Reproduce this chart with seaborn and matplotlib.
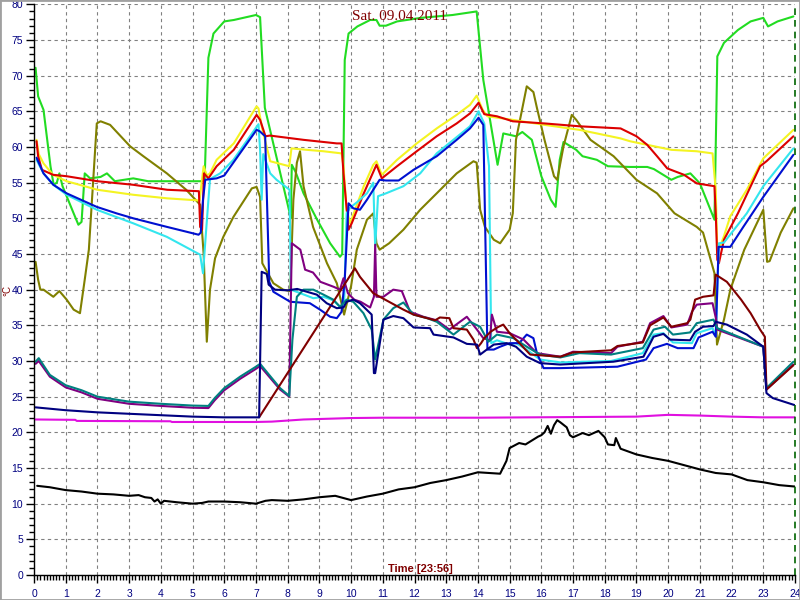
import matplotlib
matplotlib.use("Agg")
import matplotlib.pyplot as plt
import matplotlib.patches as mpatches
from matplotlib.ticker import MultipleLocator
import pandas as pd
import seaborn as sns

# Values: hour of day -> temperature (°C), one pair of lists per sensor
green_h = [0.05, 0.13, 0.3, 0.52, 0.62, 0.72, 0.8, 0.9, 1.25, 1.4, 1.5, 1.6, 1.77, 2.1, 2.3, 2.55, 3.13, 3.6, 4.5,
           5.3, 5.38, 5.5, 5.66, 6.0, 6.3, 7.0, 7.13, 7.28, 8.05, 8.1, 8.13, 8.25, 8.5, 8.93, 9.34, 9.65, 9.72, 9.8,
           9.92, 10.2, 10.6, 10.8, 10.9, 11.1, 11.45, 12.2, 13.2, 13.96, 14.17, 14.62, 14.8, 15.2, 15.4, 15.7, 16.0,
           16.3, 16.45, 16.58, 16.7, 17.1, 17.3, 17.75, 18.1, 18.8, 19.34, 19.55, 20.1, 20.3, 20.7, 21.0, 21.46,
           21.55, 21.76, 22.2, 22.6, 23.0, 23.15, 23.45, 23.95]
green_v = [71.1, 67.1, 65.2, 57.3, 54.7, 55.0, 56.3, 54.5, 50.7, 49.1, 49.5, 56.3, 55.6, 55.8, 56.3, 55.2, 55.6, 55.2,
           55.2, 55.2, 55.2, 72.5, 75.9, 77.6, 77.8, 78.5, 78.2, 65.5, 51.0, 50.0, 57.5, 56.5, 53.5, 49.8, 46.5, 44.6,
           45.0, 72.2, 75.9, 76.9, 77.8, 77.8, 77.0, 77.0, 77.6, 78.1, 78.5, 79.0, 69.4, 57.5, 61.9, 61.5, 62.1,
           61.0, 55.9, 52.6, 51.6, 58.2, 60.7, 59.6, 58.7, 58.2, 57.3, 57.2, 57.2, 56.9, 55.4, 55.8, 56.3, 54.9,
           49.8, 72.7, 74.6, 76.4, 77.6, 78.1, 76.9, 77.6, 78.3]

yellow_h = [0.08, 0.15, 0.3, 0.6, 1.03, 2.0, 3.13, 4.2, 5.22, 5.35, 5.45, 5.55, 5.76, 6.3, 7.02, 7.08, 7.2, 7.45,
            8.05, 8.12, 8.6, 9.13, 9.7, 9.76, 9.86, 9.97, 10.2, 10.4, 10.7, 10.8, 10.97, 11.45, 12.07, 12.7, 13.33,
            13.75, 13.96, 14.15, 14.3, 15.1, 16.1, 17.2, 17.75, 18.5, 18.8, 19.34, 20.1, 20.9, 21.4, 21.5, 21.55,
            21.76, 21.96, 22.48, 23.0, 23.95]
yellow_v = [61.0, 59.0, 57.7, 56.1, 55.2, 54.0, 53.3, 52.8, 52.5, 57.3, 56.0, 56.3, 58.2, 60.5, 65.7, 65.4, 62.5, 58.0,
            57.3, 59.8, 59.6, 59.4, 59.1, 57.3, 51.2, 49.3, 52.1, 54.5, 57.5, 58.0, 56.1, 58.2, 60.5, 62.6, 64.5,
            65.9, 67.2, 65.2, 64.3, 63.8, 63.1, 62.4, 61.9, 61.2, 60.8, 60.3, 59.6, 59.4, 59.1, 54.0, 45.1,
            47.5, 50.3, 54.0, 58.4, 62.4]

red_h = [0.08, 0.13, 0.25, 0.6, 1.03, 2.0, 3.13, 4.2, 5.2, 5.24, 5.3, 5.36, 5.5, 5.76, 6.3, 7.02, 7.13, 7.3, 7.44,
         8.5, 9.55, 9.7, 9.76, 9.92, 10.02, 10.4, 10.8, 10.97, 11.45, 12.07, 12.7, 13.33, 13.75, 14.02, 14.2, 14.6,
         15.1, 16.1, 17.2, 18.5, 19.0, 19.34, 19.65, 19.97, 20.5, 20.9, 21.46, 21.5, 21.55, 21.6, 21.76, 22.2,
         22.9, 23.1, 23.95]
red_v = [60.8, 58.7, 56.8, 56.1, 55.9, 55.2, 54.7, 54.0, 53.8, 48.8, 48.4, 56.3, 55.6, 57.3, 59.6, 64.5, 63.8, 61.5,
         61.6, 61.0, 60.5, 60.5, 56.3, 48.4, 49.3, 53.5, 57.5, 55.6, 57.3, 59.4, 61.5, 63.3, 64.7, 66.2, 64.6, 64.3,
         63.6, 63.3, 62.9, 62.6, 61.5, 60.3, 58.7, 57.0, 56.1, 54.9, 54.5, 50.7, 44.2, 43.7, 47.0, 50.7,
         57.3, 58.0, 61.5]

cyan_h = [0.08, 0.3, 0.61, 1.03, 1.98, 3.13, 4.19, 5.24, 5.33, 5.43, 5.55, 5.87, 6.29, 7.08, 7.13, 7.18, 7.23, 7.45,
          7.65, 8.06, 8.1, 8.4, 8.81, 9.13, 9.44, 9.65, 9.78, 9.86, 9.97, 10.2, 10.5, 10.7, 10.76, 10.85, 11.1,
          11.65, 12.18, 12.7, 13.75, 14.02, 14.2, 14.35, 14.42, 14.6, 15.0, 15.2, 15.54, 15.96, 16.6, 18.2, 19.2,
          19.54, 19.85, 20.15, 20.75, 20.9, 21.4, 21.5, 21.6, 21.76, 22.48, 23.0, 23.95]
cyan_v = [58.2, 56.3, 54.7, 53.3, 51.2, 49.3, 47.4, 44.9, 42.3, 48.4, 55.5, 56.3, 58.2, 63.2, 59.6, 52.6, 59.0, 56.3,
          55.4, 54.0, 40.0, 39.5, 38.8, 39.0, 38.5, 37.6, 38.0, 50.7, 51.5, 52.3, 53.5, 55.0, 46.0, 53.1, 53.5,
          54.5, 56.3, 59.1, 62.9, 65.0, 63.3, 57.3, 32.5, 32.9, 32.3, 32.5, 31.6, 30.2, 29.8, 30.0, 31.1,
          33.7, 33.9, 32.6, 32.5, 33.9, 34.6, 33.5, 46.5, 46.6, 50.7, 54.5, 59.8]

blue_h = [0.08, 0.3, 0.61, 1.03, 1.98, 2.6, 3.13, 4.19, 5.19, 5.26, 5.33, 5.4, 5.76, 6.0, 7.02, 7.12, 7.29, 7.42,
          7.55, 8.08, 8.7, 9.02, 9.34, 9.55, 9.7, 9.8, 9.92, 10.07, 10.28, 10.5, 10.9, 11.1, 11.5, 11.97, 12.7,
          13.33, 13.75, 14.02, 14.17, 14.3, 14.5, 14.7, 15.0, 15.3, 15.54, 15.75, 15.86, 16.07, 16.6, 18.4, 19.3,
          19.54, 19.96, 20.3, 20.8, 20.96, 21.4, 21.5, 21.59, 21.96, 22.37, 23.0, 23.95]
blue_v = [58.5, 56.3, 54.7, 53.5, 51.6, 50.7, 50.0, 48.8, 47.7, 48.0, 52.6, 55.4, 55.6, 56.0, 62.4, 62.2, 61.5, 41.1,
          39.7, 38.3, 38.1, 37.2, 36.2, 36.0, 36.9, 41.4, 52.1, 51.4, 51.2, 52.6, 55.4, 55.3, 55.3, 56.8, 58.7,
          61.0, 62.6, 64.1, 63.1, 31.6, 31.6, 32.0, 32.5, 32.5, 33.7, 33.2, 31.1, 29.0, 29.0, 29.2, 30.2,
          31.8, 32.4, 31.8, 31.8, 33.3, 34.1, 33.4, 46.0, 46.0, 48.8, 53.0, 58.9]

olive_h = [0.05, 0.13, 0.2, 0.3, 0.61, 0.8, 1.03, 1.25, 1.45, 1.6, 1.73, 1.98, 2.1, 2.4, 3.03, 3.45, 4.19, 4.8, 5.24,
           5.35, 5.45, 5.55, 5.71, 5.97, 6.29, 6.87, 7.02, 7.13, 7.2, 7.55, 7.86, 8.08, 8.18, 8.29, 8.39, 8.5, 8.8,
           9.24, 9.55, 9.78, 10.0, 10.18, 10.5, 10.7, 10.8, 10.9, 11.2, 11.65, 12.18, 12.7, 13.33, 13.86, 13.96,
           14.07, 14.22, 14.5, 14.7, 15.0, 15.1, 15.2, 15.54, 15.75, 15.86, 16.1, 16.4, 16.5, 16.7, 16.96, 17.1,
           17.55, 18.28, 19.0, 19.65, 20.2, 20.9, 21.1, 21.46, 21.54, 21.76, 21.96, 22.4, 23.0, 23.12, 23.2,
           23.55, 23.95]
olive_v = [43.9, 41.4, 40.0, 40.0, 39.0, 39.8, 38.6, 37.2, 36.7, 41.4, 45.6, 63.3, 63.6, 63.1, 60.1, 58.7, 56.3, 54.0,
           51.9, 45.0, 32.7, 40.0, 44.4, 47.4, 50.2, 54.2, 54.4, 53.0, 43.7, 40.9, 40.0, 39.8, 52.6, 57.8, 59.4,
           54.5, 48.8, 43.7, 40.9, 36.5, 40.5, 45.6, 49.8, 50.7, 46.5, 45.6, 46.5, 48.4, 51.2, 53.5, 56.3, 58.0,
           57.8, 51.2, 48.8, 47.0, 46.5, 48.4, 50.7, 61.0, 68.5, 67.7, 65.5, 61.0, 55.9, 55.4, 60.1, 64.5, 63.8,
           61.0, 58.7, 55.4, 53.5, 50.7, 48.8, 48.0, 42.3, 32.3, 35.8, 40.0, 45.6, 51.2, 43.9, 44.0,
           48.0, 51.4]

purple_h = [0.05, 0.15, 0.5, 1.0, 1.5, 2.0, 3.0, 4.0, 5.0, 5.5, 5.7, 6.0, 6.5, 7.0, 7.13, 7.76, 8.05, 8.13, 8.4, 8.55,
            8.8, 9.03, 9.45, 9.65, 9.76, 9.9, 10.1, 10.3, 10.6, 10.72, 10.76, 10.8, 11.02, 11.33, 11.6, 11.86, 12.28,
            12.7, 13.1, 13.65, 13.97, 14.17, 14.38, 14.44, 14.6, 15.0, 15.44, 15.86, 16.6, 17.0, 18.2, 18.4, 19.2,
            19.43, 19.85, 20.1, 20.6, 20.75, 20.9, 21.4, 21.5, 21.55, 23.0, 23.1, 23.95]
purple_v = [29.6, 30.0, 27.8, 26.3, 25.6, 24.7, 24.0, 23.7, 23.45, 23.4, 24.5, 25.9, 27.5, 28.9, 29.3, 26.0, 25.0,
            46.5, 45.6, 42.8, 42.4, 41.1, 40.4, 40.0, 41.6, 39.5, 38.6, 38.3, 37.5, 39.0, 46.3, 39.0, 39.0, 40.0,
            39.8, 36.9, 36.2, 35.7, 34.4, 36.2, 34.4, 33.2, 32.9, 36.5, 34.1, 33.9, 33.0, 31.1, 30.6, 31.3, 31.1,
            32.0, 32.7, 35.3, 36.3, 34.7, 35.1, 36.9, 37.9, 38.1, 36.1, 34.4, 32.0, 26.0, 29.5]

teal_h = [0.05, 0.15, 0.5, 1.0, 1.5, 2.0, 3.0, 4.0, 5.0, 5.5, 5.7, 6.0, 6.5, 7.0, 7.13, 7.76, 8.05, 8.15, 8.29, 8.5,
          8.81, 9.13, 9.44, 9.65, 9.86, 10.07, 10.39, 10.65, 10.76, 11.02, 11.33, 11.65, 11.97, 12.4, 12.7, 13.23,
          13.75, 14.07, 14.33, 14.6, 15.12, 15.54, 15.96, 16.6, 17.2, 18.2, 19.2, 19.54, 19.9, 20.15, 20.69, 20.9,
          21.43, 21.55, 23.0, 23.1, 23.95]
teal_v = [29.9, 30.4, 28.05, 26.6, 25.9, 25.0, 24.3, 24.0, 23.75, 23.7, 24.8, 26.2, 27.8, 29.2, 29.6, 26.2, 25.1,
          33.0, 39.0, 40.0, 40.0, 39.3, 38.6, 37.6, 38.6, 38.3, 36.7, 34.4, 30.2, 35.8, 37.4, 38.2, 36.5, 36.0,
          35.5, 33.7, 35.5, 34.8, 32.7, 33.7, 33.2, 32.0, 30.9, 30.5, 31.1, 30.9, 31.8, 34.4, 34.8, 33.7, 34.0,
          35.3, 35.8, 34.6, 32.0, 26.2, 29.9]

maroon_h = [7.1, 10.12, 10.28, 10.7, 11.65, 11.97, 12.4, 12.65, 12.8, 13.1, 13.23, 13.65, 13.86, 13.97, 14.1, 14.2,
            14.4, 14.65, 14.8, 15.0, 15.2, 15.65, 16.6, 17.0, 18.2, 18.4, 19.2, 19.43, 19.85, 20.1, 20.6, 20.7,
            20.85, 21.1, 21.43, 21.5, 21.85, 22.3, 22.6, 22.9, 23.05, 23.1, 23.95]
maroon_v = [22.1, 43.0, 41.8, 39.5, 37.2, 36.5, 36.0, 35.7, 36.1, 36.0, 34.6, 34.4, 33.0, 31.8, 32.5, 33.2,
            34.1, 34.8, 35.1, 33.9, 33.0, 30.9, 30.6, 31.2, 31.5, 32.1, 32.6, 35.0, 36.1, 34.8, 35.3, 35.8,
            38.6, 39.0, 39.2, 42.1, 41.1, 38.6, 36.7, 34.4, 33.4, 26.0, 29.4]

navy_h = [0.05, 1.0, 2.0, 3.0, 4.0, 5.0, 6.0, 7.1, 7.18, 7.34, 7.4, 7.6, 8.0, 8.3, 8.92, 9.23, 9.55, 9.76, 9.86, 10.07,
          10.28, 10.65, 10.72, 10.76, 11.02, 11.33, 11.65, 11.97, 12.49, 12.6, 13.23, 13.65, 13.97, 14.07, 14.28,
          14.5, 14.91, 15.2, 15.54, 15.96, 16.6, 18.27, 19.22, 19.54, 19.85, 20.06, 20.69, 20.85, 21.1, 21.43,
          21.5, 21.85, 22.48, 23.0, 23.1, 23.3, 24.0]
navy_v = [23.5, 23.1, 22.8, 22.6, 22.4, 22.2, 22.1, 22.1, 42.5, 42.2, 40.7, 40.0, 39.9, 40.1, 39.3, 38.1, 37.4, 37.5,
          38.3, 38.6, 38.1, 36.5, 28.3, 28.3, 35.8, 36.3, 36.0, 34.7, 34.6, 33.7, 33.3, 32.4, 32.3, 30.9, 31.6,
          32.3, 32.5, 32.0, 30.6, 29.7, 29.5, 29.9, 30.6, 33.4, 33.8, 33.0, 32.9, 34.1, 34.8, 34.9,
          35.5, 35.1, 33.7, 32.0, 25.5, 24.8, 23.8]

magenta_h = [0.05, 1.3, 1.35, 4.3, 4.35, 7.0, 7.5, 8.5, 10.0, 11.0, 14.0, 19.0, 20.0, 21.0, 22.0, 23.0, 24.0]
magenta_v = [21.8, 21.75, 21.6, 21.55, 21.45, 21.45, 21.5, 21.8, 22.0, 22.05, 22.05, 22.2, 22.45, 22.35, 22.2,
             22.1, 22.1]

black_h = [0.1, 0.5, 1.0, 1.5, 2.0, 2.5, 3.0, 3.3, 3.5, 3.7, 3.8, 3.9, 4.0, 4.1, 4.5, 5.0, 5.3, 5.5, 6.0, 6.5, 7.0,
           7.3, 7.5, 8.0, 8.5, 9.0, 9.5, 10.0, 10.5, 11.0, 11.5, 12.0, 12.5, 13.0, 13.5, 14.0, 14.7, 14.9, 15.0,
           15.3, 15.5, 15.9, 16.0, 16.1, 16.2, 16.3, 16.4, 16.5, 16.6, 16.8, 16.9, 17.0, 17.3, 17.5, 17.8, 18.0,
           18.1, 18.3, 18.35, 18.5, 19.0, 19.5, 20.0, 20.5, 21.0, 21.5, 22.0, 22.5, 23.0, 23.5, 24.0]
black_v = [12.5, 12.3, 11.9, 11.7, 11.4, 11.3, 11.1, 11.2, 10.9, 10.8, 10.3, 10.6, 10.0, 10.4, 10.2, 10.0, 10.1,
           10.3, 10.3, 10.2, 10.0, 10.4, 10.5, 10.4, 10.6, 10.9, 11.1, 10.5, 11.0, 11.4, 12.0, 12.3, 12.9, 13.3,
           13.8, 14.4, 14.2, 16.0, 17.8, 18.5, 18.3, 19.4, 19.6, 20.0, 20.9, 19.8, 21.0, 21.7, 21.4, 20.7, 19.6,
           19.3, 19.9, 19.6, 20.2, 19.3, 18.3, 18.2, 19.2, 17.7, 16.9, 16.4, 16.0, 15.4, 14.8, 14.3, 14.1, 13.3,
           13.0, 12.6, 12.4]

# drawing order and colours
order = ["green", "olive", "yellow", "red", "cyan", "blue", "purple", "teal", "maroon", "navy", "magenta", "black"]
palette = {"green": "#22dc22", "olive": "#808000", "yellow": "#f4f422", "red": "#dc0000", "cyan": "#33e6ee",
           "blue": "#0010d0", "purple": "#800080", "teal": "#008080", "maroon": "#800000", "navy": "#000080",
           "magenta": "#e010e0", "black": "#000000"}
data = {"green": (green_h, green_v), "olive": (olive_h, olive_v), "yellow": (yellow_h, yellow_v),
        "red": (red_h, red_v), "cyan": (cyan_h, cyan_v), "blue": (blue_h, blue_v),
        "purple": (purple_h, purple_v), "teal": (teal_h, teal_v), "maroon": (maroon_h, maroon_v),
        "navy": (navy_h, navy_v), "magenta": (magenta_h, magenta_v), "black": (black_h, black_v)}

frames = [pd.DataFrame({"sensor": k, "hour": h, "temp": v}) for k, (h, v) in data.items()]
df = pd.concat(frames, ignore_index=True)

sns.set_style("white")
plt.rcParams["font.family"] = ["Liberation Sans", "DejaVu Sans"]

fig = plt.figure(figsize=(8, 6), dpi=100)
ax = fig.add_axes([34 / 800, 25 / 600, 761 / 800, 570.7 / 600])

sns.lineplot(data=df, x="hour", y="temp", hue="sensor", hue_order=order, palette=palette,
             estimator=None, sort=False, legend=False, linewidth=1.5, ax=ax)

ax.set_xlim(0, 24)
ax.set_ylim(0, 80)
ax.set_xlabel("")
ax.set_ylabel("")
ax.xaxis.set_major_locator(MultipleLocator(1))
ax.xaxis.set_minor_locator(MultipleLocator(0.1))
ax.yaxis.set_major_locator(MultipleLocator(5))
ax.yaxis.set_minor_locator(MultipleLocator(1))
ax.tick_params(which="both", bottom=True, left=True, direction="out", color="black", width=1)
ax.tick_params(which="major", length=6, labelcolor="#000080", labelsize=7.5)
ax.tick_params(which="minor", length=3.5)
ax.tick_params(axis="x", pad=4)
ax.tick_params(axis="y", pad=2)
ax.grid(True, which="major", color="#808080", linestyle=(0, (3, 3)), linewidth=0.8)
ax.set_axisbelow(True)

for s in ["top", "right"]:
    ax.spines[s].set_visible(False)
for s in ["left", "bottom"]:
    ax.spines[s].set_color("black")
    ax.spines[s].set_linewidth(1)
ax.axvline(24, color="#006400", linestyle=(0, (4, 3)), linewidth=1.2, clip_on=False)

fig.text(400 / 800, 1 - 17 / 600, "Sat. 09.04.2011", ha="center", va="center", color="#800000",
         fontsize=11, family="Liberation Serif")
fig.text(420 / 800, 1 - 569 / 600, "Time [23:56]", ha="center", va="center", color="#800000",
         fontsize=8, fontweight="bold")
fig.text(7 / 800, 1 - 290 / 600, "°C", rotation=90, ha="center", va="center", color="#800000", fontsize=7)

fig.add_artist(mpatches.Rectangle((0, 0), 1, 1, transform=fig.transFigure, fill=False,
                                  edgecolor="#a0a0a0", linewidth=2))

fig.savefig("out.png", dpi=100)
